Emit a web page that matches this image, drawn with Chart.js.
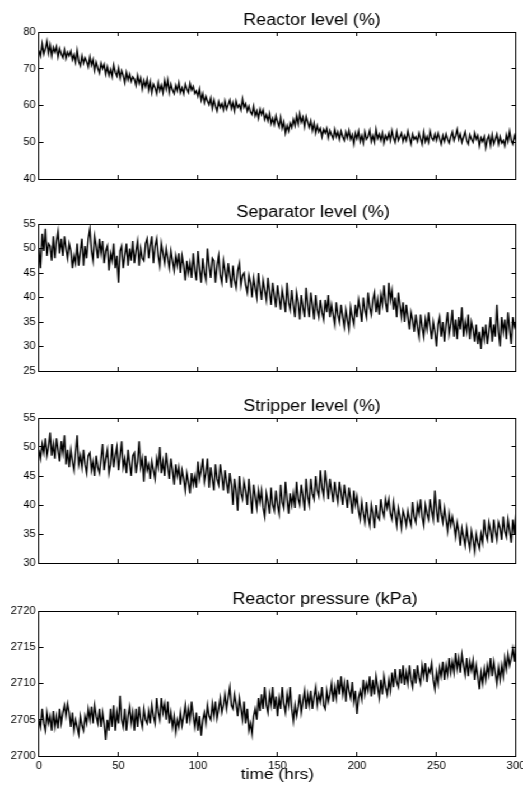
<!DOCTYPE html>
<html>
<head>
<meta charset="utf-8">
<script src="https://cdn.jsdelivr.net/npm/chart.js@4.4.0/dist/chart.umd.min.js"></script>
<style>
  html, body { margin: 0; padding: 0; background: #fff; overflow: hidden; }
  /* the original figure is a little wider than tall, so stretch the whole figure */
  #figure { position: absolute; left: 0; top: 0; width: 467px; height: 787px; transform: scaleX(1.12); transform-origin: 0 0; }
  #figure canvas { position: absolute; left: 0; }
</style>
</head>
<body>
<div id="figure">
  <canvas id="reactorLevelChart" width="467" height="187" style="top:0px"></canvas>
  <canvas id="separatorLevelChart" width="467" height="187" style="top:192px"></canvas>
  <canvas id="stripperLevelChart" width="467" height="185" style="top:386px"></canvas>
  <canvas id="reactorPressureChart" width="467" height="208" style="top:579px"></canvas>
</div>
<script>
// one reading per hour, 0..300 hrs
const TIME_STEP_HRS = 1;
const X_TICKS = [0, 50, 100, 150, 200, 250, 300];

const reactorLevel = [
  75, 73.5, 76.8, 74, 75.5, 77.5, 74.2, 76.5, 73.5, 75.8,
  74.5, 76, 73.2, 75.5, 74, 73, 75.2, 72.8, 74.5, 73.5,
  74.8, 72.5, 73.8, 71.8, 75, 72, 70.8, 73.5, 71.5, 73,
  72, 70.5, 73.2, 71, 72.5, 69.5, 71.8, 70.2, 68.8, 71.5,
  70, 71.2, 68.5, 70.5, 68.2, 69.8, 67.8, 71, 69, 68,
  70.2, 67.5, 69.5, 68.2, 66.2, 69, 67, 68.5, 66.5, 67.8,
  67.2, 65.5, 68.2, 66, 67.5, 64.5, 66.8, 65.2, 67.2, 64.2,
  66.5, 63.5, 65.8, 64.8, 63.2, 66.2, 64, 65.5, 63.5, 66.8,
  64.5, 67, 63.5, 65.8, 64.2, 63.2, 65.5, 64, 66.2, 63.5,
  64.8, 63.2, 65.8, 64.5, 63.5, 66, 64.2, 65.2, 63.3, 64,
  62.5, 64.5, 61.5, 63.2, 60.8, 62.5, 61.2, 60.2, 62, 59.2,
  61.5, 59.8, 58.5, 61, 59.5, 60.5, 58.8, 61.2, 59, 60.2,
  61.5, 59.2, 60.8, 58.5, 61.2, 59.5, 60.2, 58.8, 61.8, 59.5,
  60.5, 58.5, 59.8, 58.2, 57.5, 59.8, 57.2, 58.5, 56.5, 59,
  57.5, 58.8, 56.2, 57.5, 55.8, 57.8, 55, 56.5, 54.8, 57.2,
  55.5, 54.2, 56.8, 53.8, 55.5, 52.5, 54.5, 53, 55.2, 54,
  56.2, 54.5, 57.2, 55, 57.8, 55.5, 56.8, 54.2, 57, 55.5,
  54, 55.8, 53.2, 55.2, 52.5, 54.5, 52.8, 53.8, 51.5, 53.5,
  52.5, 53.8, 51.2, 53.2, 52, 51, 53.5, 51.5, 52.8, 50.8,
  53, 51.5, 50.5, 52.8, 51.2, 53.2, 50.8, 52, 49.5, 52.5,
  51, 53, 50.2, 51.8, 49.8, 52.8, 50.8, 51.5, 53.2, 50.2,
  51.8, 50, 53.5, 51, 52.2, 50.5, 52.5, 49.8, 51.8, 50.8,
  52.5, 50.5, 53.2, 51.2, 50, 52.8, 50.5, 51.5, 52.5, 50.2,
  51.8, 50.5, 53, 51.2, 49.5, 52.2, 50.8, 51.5, 50.2, 52.5,
  51, 49.5, 52.8, 50.2, 51.5, 50, 53, 51.2, 50.5, 52.2,
  50.5, 52.5, 51, 49.5, 51.8, 50.2, 52.2, 50.8, 49.8, 51.5,
  52.8, 50.5, 51.8, 53.5, 50.8, 52.2, 50, 51.5, 52.8, 50.5,
  49.5, 52, 50.8, 50, 52.5, 50.8, 51.8, 49, 51.2, 50.2,
  51.5, 48.5, 50.8, 51.8, 49.2, 52, 49.5, 50.8, 52.2, 49.5,
  51.5, 49.8, 50.5, 49, 52, 50.2, 53, 50.5, 49.5, 51.8,
  50.5
];
const reactorLevelTicks = [40, 50, 60, 70, 80];

const separatorLevel = [
  50, 46, 53, 49.5, 54, 48.5, 51, 50.5, 47.5, 52.5,
  48, 51.5, 53.5, 49, 52, 48.5, 52.5, 50, 48, 51,
  49.5, 46, 48.5, 47, 51, 46.5, 49.5, 52, 46.5, 50.5,
  48, 52, 54, 49.5, 47.5, 52.5, 50.5, 48, 52, 49,
  51.5, 47, 49.5, 50.5, 45.5, 49, 47.5, 51, 46, 48.5,
  43, 49.5, 50.5, 46, 48.5, 51, 46.5, 50, 47.5, 51.5,
  47, 49.5, 51.5, 46.5, 50, 48, 47.5, 51, 52, 48,
  50.5, 52.5, 47, 50.5, 52, 48.5, 46.5, 51, 49, 47,
  50, 48, 46, 49.5, 47.5, 45.5, 48.5, 46.5, 49, 45,
  48.5, 46.5, 43.5, 47.5, 45, 47, 44, 49, 45.5, 43.5,
  49.5, 46, 43, 48, 45, 43.5, 50, 46.5, 44, 48,
  47.5, 43, 46.5, 48.5, 44.5, 43, 47.5, 45.5, 43, 47,
  44.5, 42, 46.5, 43.5, 42, 45.5, 47, 42.5, 44.5, 45,
  42.5, 41, 44.5, 43, 40, 44, 42, 40, 45, 42,
  39.5, 43.5, 41.5, 39.5, 44, 41, 38.5, 43, 40.5, 38,
  42.5, 40, 37.5, 41.5, 39.5, 37, 43, 39, 37.5, 41.5,
  38.5, 36, 41, 39, 35.5, 40.5, 38, 36, 42, 38.5,
  36, 41, 38.5, 35.5, 40.5, 37.5, 36, 39.5, 37, 35.5,
  39.5, 37, 40.5, 36, 38.5, 36.5, 34.5, 39, 36.5, 35,
  38.5, 36, 34, 37.5, 35.5, 33.5, 38, 36, 34.5, 38.5,
  36, 39.5, 37.5, 35, 40, 37.5, 36, 41, 38, 36.5,
  39.5, 41, 37, 39.5, 36.5, 40.5, 38.5, 42.5, 39, 37,
  43, 39.5, 41.5, 37.5, 40, 36, 41, 38.5, 36, 39,
  35, 38.5, 36, 33.5, 37, 35.5, 33, 36.5, 34, 32,
  36.5, 34, 32, 35.5, 33.5, 37, 34, 31.5, 35, 33,
  30, 34.5, 36, 32, 35, 31, 34.5, 37, 32.5, 34.5,
  37.5, 32, 35.5, 31.5, 36, 33.5, 38, 32, 35, 33,
  36.5, 31.5, 35, 33.5, 31, 34.5, 30.5, 33, 29.5, 34,
  31.5, 34.5, 30.5, 33, 36, 31, 34.5, 32, 38.5, 33,
  30, 36, 33, 35.5, 31.5, 37, 33.5, 30.5, 36, 34,
  35
];
const separatorLevelTicks = [25, 30, 35, 40, 45, 50, 55];

const stripperLevel = [
  49.5, 48, 50.5, 49, 51.5, 48.5, 50, 52.5, 48.5, 50.5,
  48, 51.5, 49.5, 47.5, 51, 49, 52, 47, 49.5, 46.5,
  49.5, 47.5, 46, 49, 52, 47, 48.5, 46.5, 49.5, 47,
  45.5, 48.5, 49, 46, 47.5, 45, 48.5, 46.5, 45.5, 48,
  50.5, 46, 48, 49.5, 45.5, 47, 50.5, 46.5, 48.5, 50,
  46, 48.5, 51, 46.5, 48, 45.5, 49.5, 47, 45, 48.5,
  49, 45.5, 47.5, 51, 46.5, 48, 44, 48.5, 46, 47,
  44.5, 47.5, 46, 44.5, 48, 46.5, 50, 45.5, 47.5, 45,
  49, 46.5, 44.5, 48, 46, 43.5, 47, 45, 46.5, 43.5,
  46, 44.5, 42.5, 45.5, 44, 42, 45.5, 43.5, 45, 43,
  47.5, 44.5, 46, 48, 44, 45.5, 48, 43, 46.5, 44.5,
  42.5, 47, 44.5, 43.5, 47, 45, 42.5, 46, 44, 42,
  45.5, 43.5, 40, 44.5, 42.5, 39, 45, 42, 41, 44,
  42.5, 40, 44.5, 41.5, 38.5, 43.5, 41.5, 39.5, 42.5, 40.5,
  42.5, 39.5, 38, 42, 40.5, 38.5, 43, 40, 39, 42.5,
  40, 38.5, 43.5, 40.5, 39.5, 44, 41, 38.5, 42, 40,
  42, 39.5, 44, 41, 40, 43.5, 41.5, 39, 44.5, 41.5,
  40, 44.5, 42, 41, 45, 42.5, 41.5, 46, 43, 41.5,
  46, 43.5, 41, 44.5, 42.5, 40.5, 44, 42, 40.5, 44,
  42, 40, 43.5, 41.5, 39.5, 43, 41, 38.5, 42.5, 40,
  41.5, 39, 37.5, 40.5, 38.5, 37, 40.5, 38, 36.5, 40,
  38.5, 36, 40, 38, 37.5, 41, 39, 38, 41, 39.5,
  41, 38.5, 37.5, 40.5, 38.5, 36.5, 39.5, 38, 36, 39,
  38, 36.5, 39, 37.5, 36.5, 40.5, 38, 37, 40, 38.5,
  41, 38, 36.5, 40, 38.5, 37.5, 41, 39, 37.5, 42.5,
  39, 37, 41, 38.5, 37, 39.5, 37.5, 35.5, 38.5, 36.5,
  38, 36.5, 34.5, 37, 35.5, 33, 36, 34.5, 33, 36,
  34, 32.5, 35.5, 34, 32, 35, 33.5, 32.5, 35, 33.5,
  37.5, 35, 34, 37, 35.5, 33.5, 37.5, 35.5, 34, 37,
  36, 34, 38, 35.5, 34.5, 37.5, 35.5, 33.5, 37.5, 35,
  38.5
];
const stripperLevelTicks = [30, 35, 40, 45, 50, 55];

const reactorPressure = [
  2705, 2704, 2706.5, 2704.5, 2703.5, 2706, 2704.5, 2705.5, 2703.5, 2706.2,
  2704, 2705.5, 2703.8, 2706.5, 2704.5, 2706, 2707, 2705.5, 2707.2, 2706,
  2704, 2706, 2703.5, 2705, 2704, 2703, 2705.5, 2704.2, 2703.5, 2705.5,
  2704.5, 2706.5, 2705, 2706.8, 2704.5, 2707, 2705.5, 2704.5, 2706.5, 2704,
  2706, 2704.5, 2702.2, 2705, 2703.5, 2706.5, 2704, 2707, 2703.5, 2706,
  2704.5, 2708.3, 2705, 2704, 2706.5, 2703.5, 2705.5, 2706.8, 2704.5, 2706,
  2703.5, 2706.5, 2704, 2706.8, 2705, 2704, 2706.5, 2705, 2704.5, 2706.2,
  2704.5, 2707, 2705.5, 2704.5, 2708, 2706, 2705, 2708, 2706, 2707.2,
  2705, 2707.5, 2704.5, 2706, 2704, 2705.5, 2703.3, 2705, 2704, 2706,
  2704.2, 2705.5, 2707, 2704.5, 2706.5, 2705, 2707.5, 2705.5, 2704, 2706,
  2703.5, 2705.5, 2702.8, 2705, 2706, 2704.5, 2707, 2705.5, 2705, 2707.2,
  2705.5, 2707.5, 2705.2, 2706.5, 2708, 2706, 2707, 2708.5, 2706.5, 2708,
  2709.5, 2707, 2706.5, 2708.5, 2707.2, 2705.5, 2708, 2706.5, 2705, 2707.5,
  2704.5, 2706.5, 2703.5, 2704.5, 2703, 2705.5, 2706.5, 2705, 2708, 2706.2,
  2708.5, 2706.5, 2709.5, 2707, 2706, 2708.5, 2707, 2709.5, 2706.5, 2708.2,
  2705.5, 2708, 2706.5, 2709.5, 2707.2, 2706, 2708.5, 2707, 2709.5, 2706.5,
  2704.8, 2707, 2705.5, 2706.8, 2708.5, 2706, 2707.5, 2709, 2706.5, 2708.5,
  2707, 2709, 2706.5, 2708.2, 2709.5, 2707, 2708.5, 2707.5, 2709.5, 2707,
  2706.5, 2709, 2707.5, 2708.5, 2710, 2707.5, 2709.5, 2708, 2710.5, 2708.5,
  2711, 2708.5, 2710, 2707.5, 2710.5, 2709, 2708, 2710.2, 2707.5, 2709,
  2705.8, 2708, 2709, 2707.8, 2710.5, 2708.5, 2710, 2709, 2711, 2708.2,
  2710.5, 2708.5, 2711, 2709.5, 2708, 2710.5, 2708.5, 2711, 2709.5, 2708.5,
  2710.5, 2709, 2711.5, 2709.5, 2712, 2710.2, 2709.5, 2712, 2710, 2712.5,
  2709.8, 2711.5, 2710, 2712.5, 2710.5, 2709.5, 2712, 2710, 2712.5, 2710.8,
  2710, 2712.5, 2711, 2712.8, 2710.2, 2712, 2711.5, 2712.8, 2710.5, 2709.2,
  2711.5, 2710, 2712.2, 2711, 2713, 2710.5, 2712.5, 2711.2, 2713.5, 2711.5,
  2713, 2711.5, 2714.2, 2712, 2713.5, 2711.5, 2714, 2712.5, 2711.2, 2713.5,
  2711, 2713, 2711.8, 2713.2, 2710.5, 2712.5, 2711, 2709.2, 2711.5, 2710,
  2712, 2710.5, 2712.5, 2711.2, 2713.5, 2711, 2713, 2711.5, 2710, 2712.2,
  2710.5, 2712.5, 2711, 2713.5, 2712, 2714, 2712.5, 2713.5, 2714.8, 2713,
  2715.5
];
const reactorPressureTicks = [2700, 2705, 2710, 2715, 2720];

const FONT = '"Liberation Sans", Arial, Helvetica, sans-serif';

// title sits a bit right of the axes centre in the original, so draw it ourselves
const subplotTitle = {
  id: 'subplotTitle',
  afterDraw(chart, args, opts) {
    const ctx = chart.ctx;
    ctx.save();
    ctx.font = `16px ${FONT}`;
    ctx.fillStyle = '#000';
    ctx.textAlign = 'center';
    ctx.textBaseline = 'alphabetic';
    ctx.fillText(opts.text, opts.x, chart.chartArea.top - 7);
    ctx.restore();
  }
};

function makePanel(id, values, yTicks, title, titleX, isBottom) {
  const tickFont = { family: FONT, size: 10 };
  const inward = { display: true, drawOnChartArea: false, drawTicks: true, tickLength: -4, color: '#000', lineWidth: 1 };
  const frame = { display: true, color: '#000', width: 1 };
  const useTicks = list => scale => { scale.ticks = list.map(v => ({ value: v })); };
  const fixSize = (key, size) => scale => {
    scale[key] = size;
    scale.paddingLeft = scale.paddingRight = scale.paddingTop = scale.paddingBottom = 0;
  };
  const yMin = yTicks[0], yMax = yTicks[yTicks.length - 1];

  return new Chart(document.getElementById(id), {
    type: 'line',
    data: {
      datasets: [{
        data: values.map((v, i) => ({ x: i * TIME_STEP_HRS, y: v })),
        borderColor: '#000',
        borderWidth: 1.4,
        pointRadius: 0,
        tension: 0
      }]
    },
    options: {
      responsive: false,
      animation: false,
      events: [],
      layout: { padding: { top: 32, right: 6.3, bottom: isBottom ? 0 : 8, left: 0 } },
      plugins: {
        legend: { display: false },
        tooltip: { enabled: false },
        subplotTitle: { text: title, x: titleX }
      },
      scales: {
        x: {
          type: 'linear', position: 'bottom', min: 0, max: 300,
          afterBuildTicks: useTicks(X_TICKS),
          afterFit: fixSize('height', isBottom ? 31 : 0),
          grid: inward, border: frame,
          ticks: { display: isBottom, padding: 8, color: '#000', font: tickFont, maxRotation: 0, autoSkip: false, callback: v => String(v) },
          title: { display: isBottom, text: 'time (hrs)', color: '#000', font: { family: FONT, size: 15.5 }, padding: { top: 0, bottom: 3 } }
        },
        xTop: {
          type: 'linear', position: 'top', min: 0, max: 300,
          afterBuildTicks: useTicks(X_TICKS),
          afterFit: fixSize('height', 0),
          grid: inward, border: frame,
          ticks: { display: false }
        },
        y: {
          type: 'linear', position: 'left', min: yMin, max: yMax,
          afterBuildTicks: useTicks(yTicks),
          afterFit: fixSize('width', 34.8),
          grid: inward, border: frame,
          ticks: { padding: 7, color: '#000', font: tickFont, callback: v => String(v) }
        },
        yRight: {
          type: 'linear', position: 'right', min: yMin, max: yMax,
          afterBuildTicks: useTicks(yTicks),
          afterFit: fixSize('width', 0),
          grid: inward, border: frame,
          ticks: { display: false }
        }
      }
    },
    plugins: [subplotTitle]
  });
}

makePanel('reactorLevelChart', reactorLevel, reactorLevelTicks, 'Reactor level (%)', 278.6, false);
makePanel('separatorLevelChart', separatorLevel, separatorLevelTicks, 'Separator level (%)', 279.5, false);
makePanel('stripperLevelChart', stripperLevel, stripperLevelTicks, 'Stripper level (%)', 278.6, false);
makePanel('reactorPressureChart', reactorPressure, reactorPressureTicks, 'Reactor pressure (kPa)', 290.2, true);
</script>
</body>
</html>
